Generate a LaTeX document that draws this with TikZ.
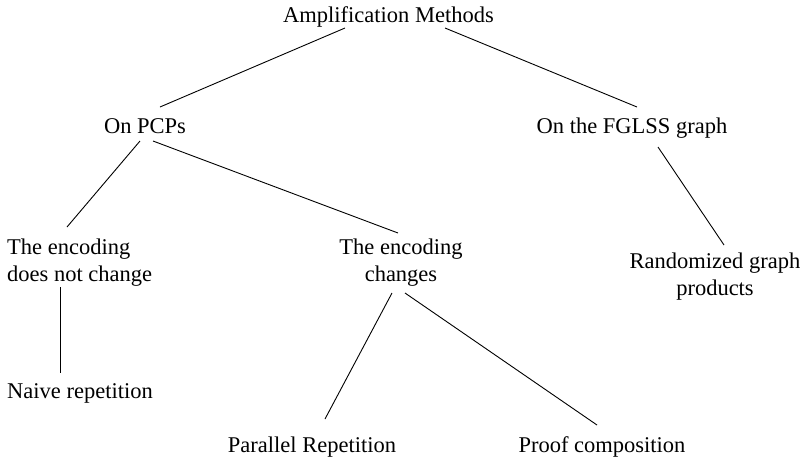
\documentclass[tikz,border=0pt]{standalone}
\usepackage{fontspec}
\setmainfont{Liberation Serif}
\begin{document}
\begin{tikzpicture}[x=1pt,y=1pt,
  lbl/.style={font=\fontsize{22.5}{27}\selectfont, inner sep=0pt, anchor=base},
  lblw/.style={lbl, anchor=base west},
  edge/.style={line width=0.9pt, black}]
\useasboundingbox (0,0) rectangle (807,-461);
\node[lbl] (amp) at (388.5,-22) {Amplification Methods};
\node[lbl] (pcp) at (145,-133) {On PCPs};
\node[lbl] (fglss) at (632,-133) {On the FGLSS graph};
\node[lblw] (nochange) at (7,-254) {\begin{tabular}[t]{@{}l@{}}The encoding\\does not change\end{tabular}};
\node[lbl] (changes) at (401,-254) {\begin{tabular}[t]{@{}c@{}}The encoding\\changes\end{tabular}};
\node[lbl] (rand) at (715,-268) {\begin{tabular}[t]{@{}c@{}}Randomized graph\\products\end{tabular}};
\node[lblw] (naive) at (7,-398) {Naive repetition};
\node[lbl] (par) at (312,-452) {Parallel Repetition};
\node[lbl] (proof) at (602,-452) {Proof composition};
\draw[edge] ([shift={(-43.5,-6)}]amp.base) -- ([shift={(15,26)}]pcp.base);
\draw[edge] ([shift={(56.5,-6)}]amp.base) -- ([shift={(5,26)}]fglss.base);
\draw[edge] ([shift={(-5,-8)}]pcp.base) -- ([shift={(60,27)}]nochange.base west);
\draw[edge] ([shift={(8,-8)}]pcp.base) -- ([shift={(-3,21)}]changes.base);
\draw[edge] ([shift={(26,-14)}]fglss.base) -- ([shift={(9,23)}]rand.base);
\draw[edge] ([shift={(53,-33)}]nochange.base west) -- ([shift={(53,25)}]naive.base west);
\draw[edge] ([shift={(-9,-39)}]changes.base) -- ([shift={(13,33)}]par.base);
\draw[edge] ([shift={(4,-39)}]changes.base) -- ([shift={(-5,27)}]proof.base);
\end{tikzpicture}
\end{document}
